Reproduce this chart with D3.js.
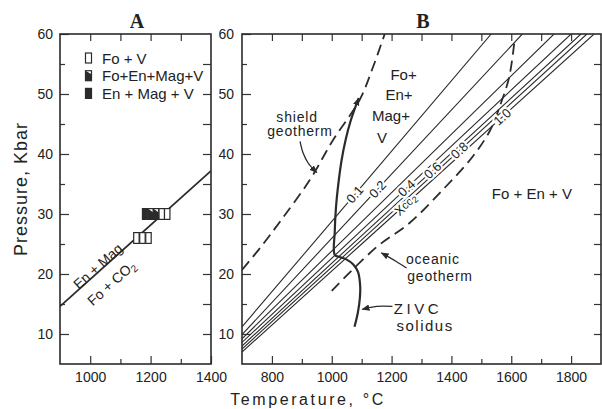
<!DOCTYPE html>
<html><head><meta charset="utf-8">
<script src="https://cdn.jsdelivr.net/npm/d3@7"></script>
<style>
body{margin:0;background:#fff}
svg{display:block}
text{font-family:"Liberation Sans",Arial,sans-serif;fill:#222}
.tick text{font-size:14px}
.tick line{stroke:#333;stroke-width:1.2}
</style></head><body><svg id="c" width="602" height="409"></svg>
<script>
// ---------- Panel A data ----------
const rxnT = [900, 1400];            // En+Mag = Fo+CO2 reaction
const rxnP = [14.6, 37.2];
const expT = [1153, 1173, 1193, 1182, 1200, 1218, 1237, 1255];
const expP = [26, 26, 26, 30, 30, 30, 30, 30];
const expPhase = ["open", "open", "open", "filled", "half", "half", "open", "open"];
const legendLabels = ["Fo + V", "Fo+En+Mag+V", "En + Mag + V"];
const legendPhase = ["open", "half", "filled"];
const xTicksA = [1000, 1200, 1400];
const xMinorA = [1100, 1300];
const xTopA = [1000, 1100, 1200, 1300];
// ---------- Panel B data ----------
const xco2Labels = ["0.1", "0.2", "", "0.4", "0.6", "0.8", "1.0"];
const xco2P700 = [11.2, 9.9, 9.2, 8.6, 8.0, 7.5, 7.0];
const xco2P1100 = [34.6, 31.3, 28.7, 27.3, 26.4, 25.7, 25.0];
const xco2Ttop = [1533, 1637, 1743, 1800, 1833, 1853, 1877];
const xco2LabelT = [1077, 1153, null, 1250, 1337, 1427, 1570];
const shieldT = [700, 763, 831, 927, 1004, 1093, 1138, 1177];
const shieldP = [20.7, 24.5, 29, 35.7, 42.3, 49, 54.5, 60];
const oceanT = [1000, 1150, 1260, 1380, 1470, 1530, 1562, 1593, 1610];
const oceanP = [17.2, 24.5, 28.5, 34.5, 39.5, 44, 48, 52.8, 58.5];
const solidusT = [1076, 1087, 1094, 1095, 1088, 1072, 1050, 1028, 1010, 1010, 1014, 1022, 1033, 1047, 1063, 1078, 1090];
const solidusP = [11.2, 13.5, 16, 18, 20.3, 21.6, 22.4, 22.8, 23.2, 27, 31, 35, 39, 42.5, 45.5, 47.7, 49.3];
const xTicksB = [800, 1000, 1200, 1400, 1600, 1800];
const xMinorB = [900, 1100, 1300, 1500, 1700];
const xTopB = [800, 900, 1000, 1100, 1200, 1300, 1400, 1500, 1600, 1700, 1800];
const yTicks = [10, 20, 30, 40, 50, 60];
const yMinor = [15, 25, 35, 45, 55];
const yRight = [10, 15, 20, 25, 30, 35, 40, 45, 50, 55];

const svg = d3.select("#c");
const ink = "#2b2b2b";
const y = d3.scaleLinear([5, 60], [364, 34]);
const xA = d3.scaleLinear([900, 1400], [60, 211]);
const xB = d3.scaleLinear([700, 1900], [242, 601]);

const defs = svg.append("defs");
defs.append("marker").attr("id", "ah").attr("viewBox", "0 0 10 10")
  .attr("refX", 9).attr("refY", 5).attr("markerWidth", 8).attr("markerHeight", 8)
  .attr("markerUnits", "userSpaceOnUse").attr("orient", "auto")
  .append("path").attr("d", "M0,1 L10,5 L0,9 z").attr("fill", ink);
defs.append("clipPath").attr("id", "clipA").append("rect")
  .attr("x", xA(900)).attr("y", y(60)).attr("width", xA(1400) - xA(900)).attr("height", y(5) - y(60));
defs.append("clipPath").attr("id", "clipB").append("rect")
  .attr("x", xB(700)).attr("y", y(60)).attr("width", xB(1900) - xB(700)).attr("height", y(5) - y(60));

function axes(x, xt, xm, xtop, rightPad, leftPad) {
  const [x0, x1] = x.range();
  const g = svg.append("g");
  const clean = s => { s.select(".domain").remove(); s.attr("font-family", null).attr("font-size", null); };
  g.append("g").attr("transform", `translate(0,${y(5)})`)
    .call(d3.axisBottom(x).tickValues(xt).tickSize(-8).tickPadding(8).tickFormat(d3.format("d"))).call(clean);
  g.append("g").attr("transform", `translate(0,${y(5)})`)
    .call(d3.axisBottom(x).tickValues(xm).tickSize(-5).tickFormat("")).call(clean);
  g.append("g").attr("transform", `translate(0,${y(60)})`)
    .call(d3.axisTop(x).tickValues(xtop).tickSize(-7).tickFormat("")).call(clean);
  g.append("g").attr("transform", `translate(${x0},0)`)
    .call(d3.axisLeft(y).tickValues(yTicks).tickSize(-9).tickPadding(leftPad).tickFormat(d3.format("d"))).call(clean);
  g.append("g").attr("transform", `translate(${x0},0)`)
    .call(d3.axisLeft(y).tickValues(yMinor).tickSize(-5).tickFormat("")).call(clean);
  g.append("g").attr("transform", `translate(${x1},0)`)
    .call(d3.axisRight(y).tickValues(yRight).tickSize(-rightPad).tickFormat("")).call(clean);
  g.selectAll(".tick line").attr("stroke", ink);
  svg.append("rect").attr("x", x0).attr("y", y(60)).attr("width", x1 - x0).attr("height", y(5) - y(60))
    .attr("fill", "none").attr("stroke", ink).attr("stroke-width", 1.6);
}
axes(xA, xTicksA, xMinorA, xTopA, 8, 7);
axes(xB, xTicksB, xMinorB, xTopB, 7, 8);

// titles
svg.append("text").attr("x", 137).attr("y", 28).attr("text-anchor", "middle")
  .style("font-family", "'Liberation Serif',serif").style("font-weight", "bold").style("font-size", "20px").text("A");
svg.append("text").attr("x", 423).attr("y", 28).attr("text-anchor", "middle")
  .style("font-family", "'Liberation Serif',serif").style("font-weight", "bold").style("font-size", "20px").text("B");
svg.append("text").attr("transform", "translate(27,189) rotate(-90)").attr("text-anchor", "middle")
  .style("font-size", "18px").style("letter-spacing", "1px").text("Pressure, Kbar");
svg.append("text").attr("x", 308).attr("y", 405).attr("text-anchor", "middle")
  .style("font-size", "16px").style("letter-spacing", "2.6px").text("Temperature, °C");

// ---------- Panel A ----------
const gA = svg.append("g").attr("clip-path", "url(#clipA)");
gA.append("path").datum(rxnT.map((t, i) => [t, rxnP[i]]))
  .attr("d", d3.line().x(d => xA(d[0])).y(d => y(d[1])))
  .attr("fill", "none").attr("stroke", ink).attr("stroke-width", 1.8);

function symbol(g, cx, cy, w, h, phase) {
  const x0 = cx - w / 2, y0 = cy - h / 2;
  g.append("rect").attr("x", x0).attr("y", y0).attr("width", w).attr("height", h)
    .attr("fill", phase === "filled" ? ink : "#fff").attr("stroke", ink).attr("stroke-width", 1.2);
  if (phase === "half") {
    g.append("path").attr("d", `M${x0},${y0} L${x0},${y0 + h} L${x0 + w},${y0 + h} L${x0 + w},${y0 + h * 0.35} Z`)
      .attr("fill", ink);
  }
}
const halfW = 9, halfH = 0.9;
expT.forEach((t, i) => {
  const w = xA(t + halfW) - xA(t - halfW), h = y(expP[i] - halfH) - y(expP[i] + halfH);
  symbol(svg, xA(t), y(expP[i]), w, h, expPhase[i]);
});
legendLabels.forEach((lab, i) => {
  const cy = 58 + i * 17.7;
  symbol(svg, 88.5, cy, 6, 10, legendPhase[i]);
  svg.append("text").attr("x", 102).attr("y", cy + 5.5).style("font-size", "15px").text(lab);
});
const angA = Math.atan2(y(rxnP[1]) - y(rxnP[0]), xA(rxnT[1]) - xA(rxnT[0])) * 180 / Math.PI;
svg.append("text").attr("transform", `translate(${xA(1025)},${y(21.3)}) rotate(${angA})`)
  .attr("text-anchor", "middle").attr("dominant-baseline", "central").style("font-size", "14px").text("En + Mag");
{
  const t = svg.append("text").attr("transform", `translate(${xA(1070)},${y(18.5)}) rotate(${angA})`)
    .attr("text-anchor", "middle").attr("dominant-baseline", "central").style("font-size", "14px");
  t.append("tspan").text("Fo + CO");
  t.append("tspan").attr("dy", 4).style("font-size", "10px").text("2");
}

// ---------- Panel B ----------
const gB = svg.append("g").attr("clip-path", "url(#clipB)");
const lineB = d3.line().x(d => xB(d[0])).y(d => y(d[1]));
const xco2Lines = xco2Labels.map((l, i) => [[700, xco2P700[i]], [1100, xco2P1100[i]], [xco2Ttop[i], 60]]);
xco2Lines.forEach(pts => {
  gB.append("path").datum(pts).attr("d", lineB)
    .attr("fill", "none").attr("stroke", ink).attr("stroke-width", 1.1);
});
gB.append("path").datum(shieldT.map((t, i) => [t, shieldP[i]]))
  .attr("d", d3.line().x(d => xB(d[0])).y(d => y(d[1])).curve(d3.curveCatmullRom))
  .attr("fill", "none").attr("stroke", ink).attr("stroke-width", 1.8).attr("stroke-dasharray", "11,6");
gB.append("path").datum(oceanT.map((t, i) => [t, oceanP[i]]))
  .attr("d", d3.line().x(d => xB(d[0])).y(d => y(d[1])).curve(d3.curveCatmullRom))
  .attr("fill", "none").attr("stroke", ink).attr("stroke-width", 1.8).attr("stroke-dasharray", "11,6");
svg.append("path").datum(solidusT.map((t, i) => [t, solidusP[i]]))
  .attr("d", d3.line().x(d => xB(d[0])).y(d => y(d[1])).curve(d3.curveCatmullRom))
  .attr("fill", "none").attr("stroke", ink).attr("stroke-width", 2.2).attr("marker-end", "url(#ah)");

function onLine(pts, T) {
  let k = T <= pts[1][0] ? 0 : 1;
  const a = pts[k], b = pts[k + 1];
  const P = a[1] + (b[1] - a[1]) * (T - a[0]) / (b[0] - a[0]);
  const ang = Math.atan2(y(b[1]) - y(a[1]), xB(b[0]) - xB(a[0])) * 180 / Math.PI;
  return [P, ang];
}
function haloText(T, P, ang, txt, size) {
  return svg.append("text").attr("transform", `translate(${xB(T)},${y(P)}) rotate(${ang})`)
    .attr("text-anchor", "middle").attr("dominant-baseline", "central")
    .style("font-size", size + "px").style("paint-order", "stroke")
    .attr("stroke", "#fff").attr("stroke-width", 4).text(txt);
}
xco2Labels.forEach((lab, i) => {
  if (!lab) return;
  const [P, ang] = onLine(xco2Lines[i], xco2LabelT[i]);
  haloText(xco2LabelT[i], P, ang, lab, 13);
});
{
  const [P, ang] = onLine(xco2Lines[6], 1247);
  const t = haloText(1247, P, ang, "", 13);
  t.append("tspan").text("X");
  t.append("tspan").style("font-size", "11px").text("co");
  t.append("tspan").style("font-size", "9px").attr("dy", 3).text("2");
}

// region & curve labels
const lab = (T, P, txt, size, ls) => svg.append("text").attr("x", xB(T)).attr("y", y(P))
  .attr("text-anchor", "middle").attr("dominant-baseline", "central")
  .style("font-size", size + "px").style("letter-spacing", (ls || 0) + "px").text(txt);
lab(1240, 53.3, "Fo+", 15); lab(1225, 50, "En+", 15); lab(1198, 46.5, "Mag+", 15); lab(1168, 42.8, "V", 15);
lab(1669, 33.5, "Fo + En + V", 15);
lab(884, 46.2, "shield", 14, 0.8); lab(894, 43.8, "geotherm", 14, 0.8);
lab(1338, 22.5, "oceanic", 14, 0.8); lab(1362, 19.7, "geotherm", 14, 0.8);
lab(1288, 14.2, "ZIVC", 15, 3.5); lab(1312, 11.5, "solidus", 15, 1.5);

const arrow = pts => svg.append("path").datum(pts)
  .attr("d", d3.line().x(d => xB(d[0])).y(d => y(d[1])).curve(d3.curveCatmullRom))
  .attr("fill", "none").attr("stroke", ink).attr("stroke-width", 1.3).attr("marker-end", "url(#ah)");
arrow([[894, 42.1], [904, 40.2], [921, 38.5], [950, 36.9]]);
arrow([[1250, 21], [1217, 22.05], [1188, 22.9], [1166, 23.5]]);
arrow([[1203, 14.6], [1150, 14.6], [1102, 14.1]]);
</script></body></html>
